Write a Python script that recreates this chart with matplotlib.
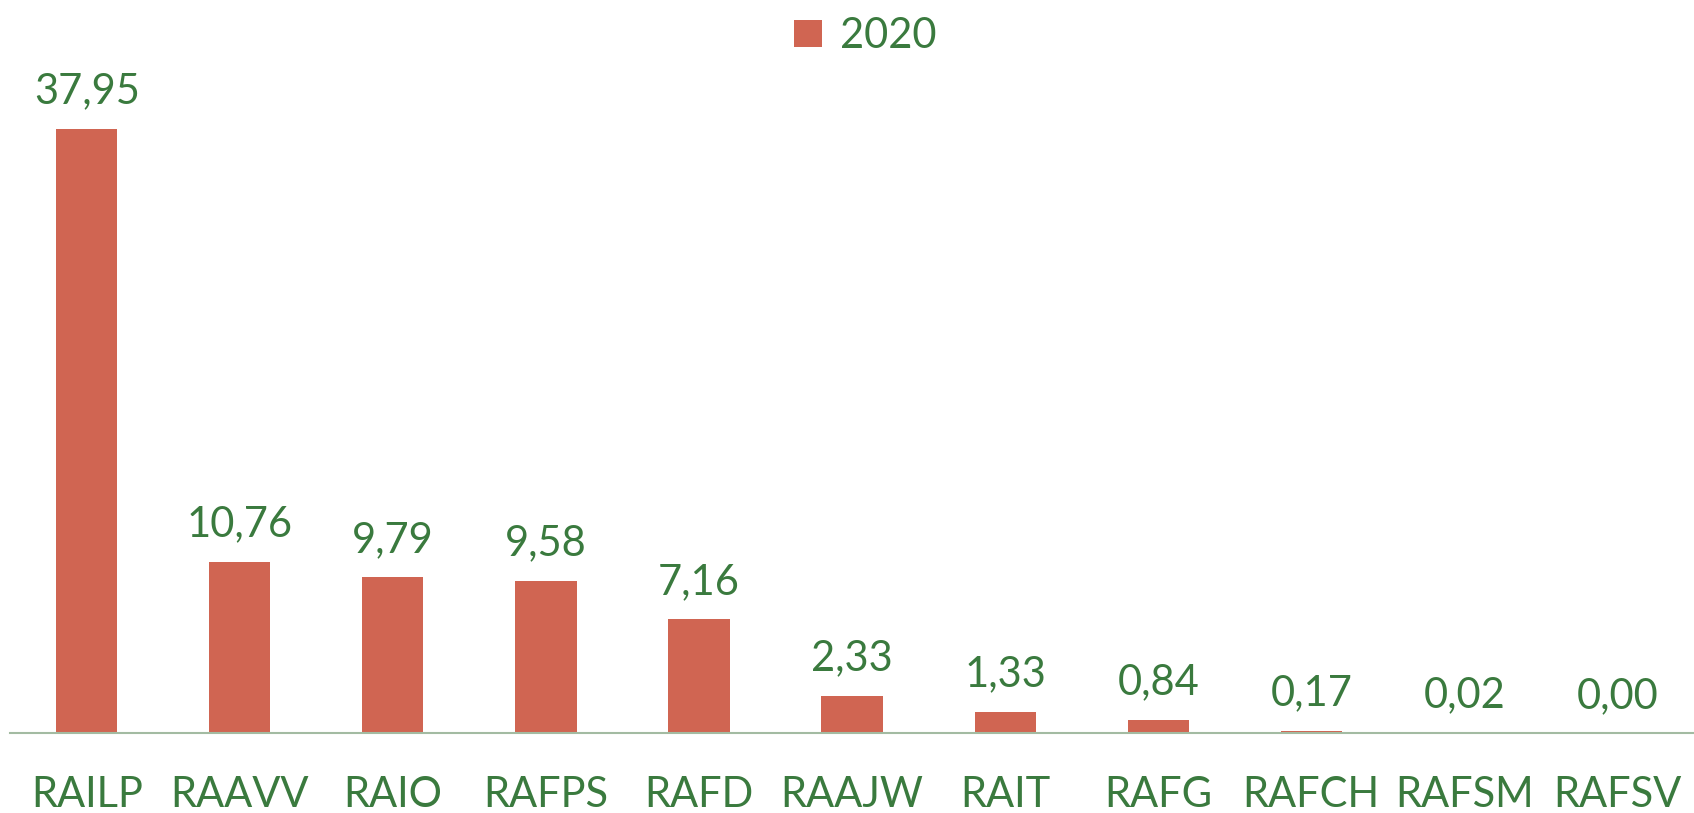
import numpy as np
import matplotlib
matplotlib.use('Agg')
import matplotlib.pyplot as plt

categories = ['RAILP', 'RAAVV', 'RAIO', 'RAFPS', 'RAFD', 'RAAJW', 'RAIT', 'RAFG', 'RAFCH', 'RAFSM', 'RAFSV']
values_2020 = [37.95, 10.76, 9.79, 9.58, 7.16, 2.33, 1.33, 0.84, 0.17, 0.02, 0.00]
series_name = '2020'

bar_color = '#D06552'
text_color = '#3A7A3E'
axis_color = '#A3BBA2'

plt.rcParams['font.family'] = ['Lato', 'DejaVu Sans']

fig = plt.figure(figsize=(16.94, 8.13), dpi=100)
ax = fig.add_axes([0.006, 0.098, 0.994, 0.784])

x = np.arange(len(categories))
bars = ax.bar(x, values_2020, width=0.4, color=bar_color, label=series_name)

for xi, v in zip(x, values_2020):
    ax.annotate('{:.2f}'.format(v).replace('.', ','), (xi, v),
                xytext=(0, 27), textcoords='offset points',
                ha='center', va='center', fontsize=30, color=text_color)

ax.set_xlim(-0.5, len(categories) - 0.5)
ax.set_ylim(0, 40)
ax.set_xticks(x)
ax.set_xticklabels(categories, fontsize=30, color=text_color)
ax.tick_params(axis='x', length=0, pad=31)
ax.set_yticks([])
for side in ['top', 'right', 'left']:
    ax.spines[side].set_visible(False)
ax.spines['bottom'].set_color(axis_color)
ax.spines['bottom'].set_linewidth(1.5)

leg = fig.legend(loc='upper center', bbox_to_anchor=(0.511, 1.025), frameon=False,
                 fontsize=30, handlelength=0.65, handleheight=0.65, handletextpad=0.45)
for t in leg.get_texts():
    t.set_color(text_color)

fig.savefig('out.png', dpi=100)
